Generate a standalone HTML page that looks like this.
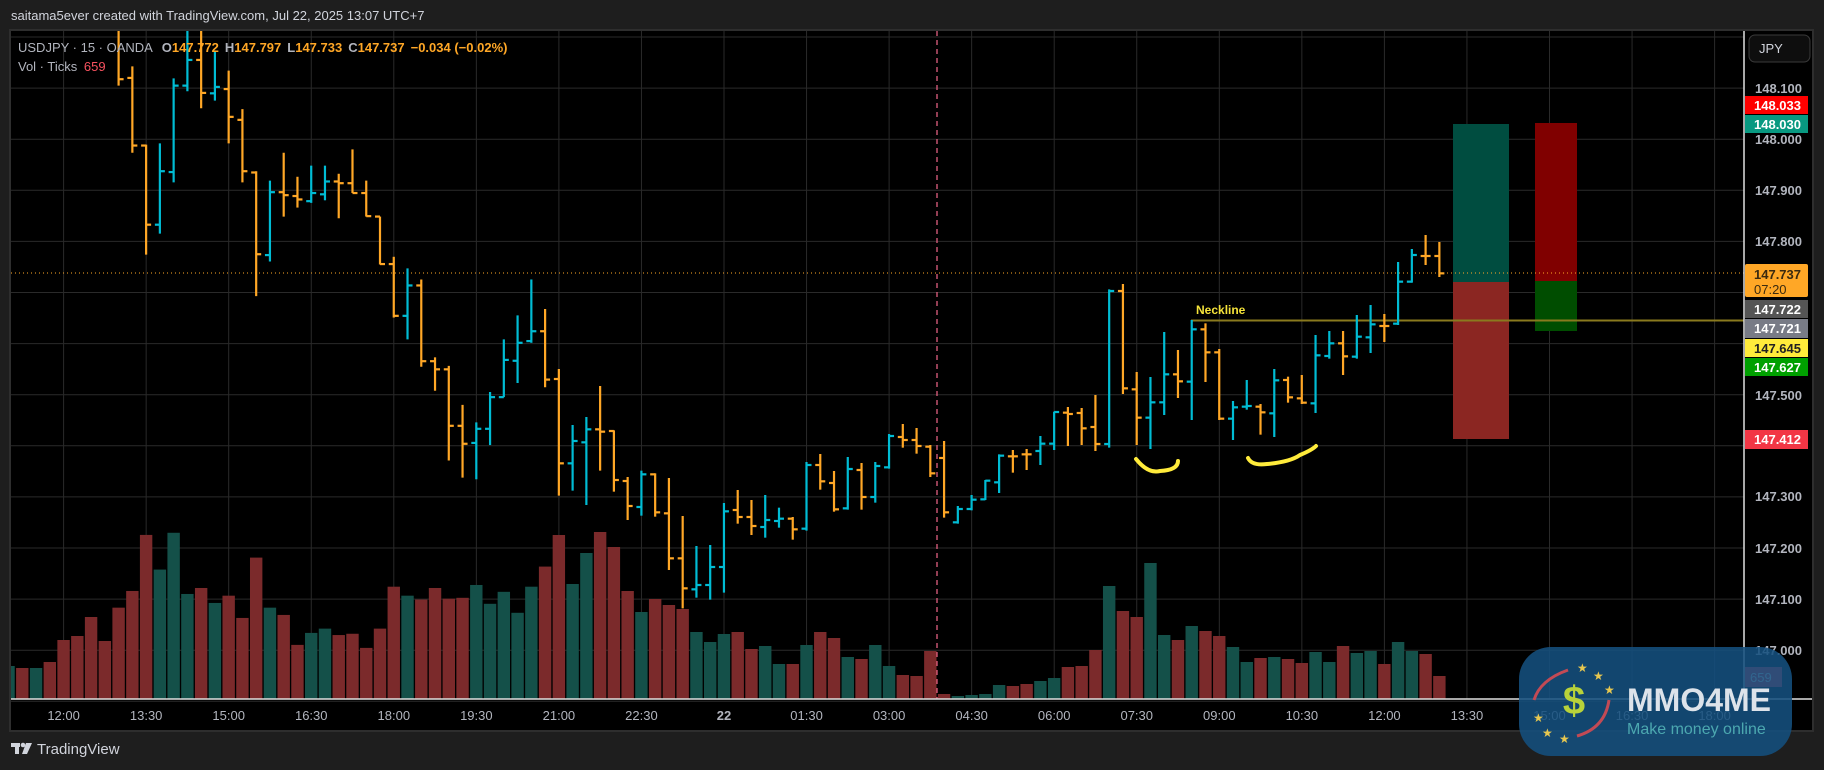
<!DOCTYPE html>
<html><head><meta charset="utf-8"><style>
html,body{margin:0;padding:0;background:#1e1e1e;width:1824px;height:770px;overflow:hidden;font-family:"Liberation Sans",sans-serif}
svg{display:block}
</style></head><body>
<svg id="s" width="1824" height="770" xmlns="http://www.w3.org/2000/svg" font-family="Liberation Sans, sans-serif">
<rect width="1824" height="770" fill="#1e1e1e"/>
<text x="11" y="20" fill="#d1d4dc" font-size="13">saitama5ever created with TradingView.com, Jul 22, 2025 13:07 UTC+7</text>
<rect x="10" y="30" width="1803" height="701" fill="#000" stroke="#2e2e2e" stroke-width="2"/>
<defs><clipPath id="cp"><rect x="11" y="31" width="1733" height="668"/></clipPath></defs>
<g id="grid" stroke="#2a2a2a" stroke-width="1"></g>
<g id="vol" clip-path="url(#cp)"></g>
<g id="pos">
<rect x="1453" y="124" width="56" height="158" fill="#004d40"/>
<rect x="1453" y="282" width="56" height="157" fill="#8b2622"/>
<rect x="1535" y="123" width="42" height="158" fill="#800000"/>
<rect x="1535" y="281" width="42" height="50" fill="#004d00"/>
</g>
<line x1="11" y1="273" x2="1744" y2="273" stroke="#ffa726" stroke-width="1" stroke-dasharray="1,3"/>
<line x1="1191" y1="320.5" x2="1744" y2="320.5" stroke="#8a7a1e" stroke-width="2"/>
<text x="1196" y="314" fill="#f5e33a" font-size="12" font-weight="bold">Neckline</text>
<line x1="937" y1="31" x2="937" y2="699" stroke="#e06080" stroke-width="1.3" stroke-dasharray="5,4"/>
<g id="bars" clip-path="url(#cp)"></g>
<path d="M1136,459 Q1148,474 1160,471 Q1178,470 1178,461" fill="none" stroke="#ffeb3b" stroke-width="4" stroke-linecap="round"/>
<path d="M1248,458 Q1252,466 1267,464 Q1290,462 1300,455 Q1312,450 1316,446" fill="none" stroke="#ffeb3b" stroke-width="4" stroke-linecap="round"/>
<line x1="11" y1="699" x2="1812" y2="699" stroke="#e0e0e0" stroke-width="1.5"/>
<line x1="1744" y1="31" x2="1744" y2="699" stroke="#e0e0e0" stroke-width="1.5"/>
<g font-size="13" fill="#b2b5be" font-weight="bold">
<text x="18" y="52"><tspan fill="#b2b5be" font-weight="normal">USDJPY · 15 · OANDA  </tspan><tspan dx="6">O</tspan><tspan fill="#ffa726">147.772</tspan><tspan dx="6">H</tspan><tspan fill="#ffa726">147.797</tspan><tspan dx="6">L</tspan><tspan fill="#ffa726">147.733</tspan><tspan dx="6">C</tspan><tspan fill="#ffa726">147.737</tspan><tspan dx="6" fill="#ffa726">−0.034 (−0.02%)</tspan></text>
<text x="18" y="71" font-weight="normal">Vol · Ticks <tspan fill="#f7525f" dx="3">659</tspan></text>
</g>
<rect x="1749" y="35" width="61" height="27" rx="6" fill="#0e0e0e" stroke="#3a3a3a"/>
<text x="1759" y="53" fill="#d1d4dc" font-size="13">JPY</text>
<g font-size="13" fill="#b2b5be" text-anchor="start" font-weight="bold">
<text x="1755" y="93">148.100</text>
<text x="1755" y="144">148.000</text>
<text x="1755" y="195">147.900</text>
<text x="1755" y="246">147.800</text>
<text x="1755" y="400">147.500</text>
<text x="1755" y="501">147.300</text>
<text x="1755" y="553">147.200</text>
<text x="1755" y="604">147.100</text>
<text x="1755" y="655">147.000</text>
</g>
<g font-size="13" font-weight="bold">
<rect x="1745" y="96" width="63" height="18" fill="#ff0000"/><text x="1754" y="110" fill="#fff">148.033</text>
<rect x="1745" y="115" width="63" height="18" fill="#089981"/><text x="1754" y="129" fill="#fff">148.030</text>
<rect x="1745" y="264" width="63" height="33" rx="2" fill="#ffa726"/><text x="1754" y="279" fill="#3a2a10">147.737</text><text x="1754" y="294" fill="#3a2a10" font-weight="normal">07:20</text>
<rect x="1745" y="300" width="63" height="18" fill="#555"/><text x="1754" y="314" fill="#fff">147.722</text>
<rect x="1745" y="319" width="63" height="19" fill="#787b86"/><text x="1754" y="333" fill="#fff">147.721</text>
<rect x="1745" y="339" width="63" height="18" fill="#ffeb3b"/><text x="1754" y="353" fill="#222">147.645</text>
<rect x="1745" y="358" width="63" height="18" fill="#00a000"/><text x="1754" y="372" fill="#fff">147.627</text>
<rect x="1745" y="430" width="63" height="19" fill="#f23645"/><text x="1754" y="444" fill="#fff">147.412</text>
<rect x="1745" y="667" width="37" height="20" fill="#f23645"/><text x="1750" y="682" fill="#fff" font-weight="normal">659</text>
</g>
<g id="tl" font-size="13" fill="#b2b5be" text-anchor="middle"></g>
<rect x="1519" y="647" width="273" height="109" rx="32" fill="#14507e" fill-opacity="0.88"/>
<path d="M1568,670 Q1540,680 1534,700" fill="none" stroke="#c24a55" stroke-width="3"/>
<path d="M1577,736 Q1605,728 1609,700" fill="none" stroke="#c24a55" stroke-width="3"/>
<text x="1574" y="714" fill="#b8d23a" font-size="40" font-weight="bold" text-anchor="middle">$</text>
<g fill="#e8c850" font-size="12"><text x="1577" y="672">★</text><text x="1593" y="680">★</text><text x="1604" y="694">★</text><text x="1533" y="722">★</text><text x="1542" y="737">★</text><text x="1559" y="743">★</text></g>
<text x="1627" y="711" fill="#dde3ea" font-size="32" font-weight="bold">MMO4ME</text>
<text x="1627" y="734" fill="#4ca8b0" font-size="16">Make money online</text>
<g fill="#d1d4dc"><rect x="11" y="743" width="9" height="4"/><rect x="15" y="743" width="4" height="11"/><circle cx="23" cy="745" r="2.3"/><path d="M26,743 L32,743 L27,754 L22,754 Z"/></g>
<text x="37" y="754" fill="#d1d4dc" font-size="15">TradingView</text>
</svg>
<script>
var NS="http://www.w3.org/2000/svg";
function el(p,t,a){var e=document.createElementNS(NS,t);for(var k in a)e.setAttribute(k,a[k]);p.appendChild(e);return e;}
var grid=document.getElementById('grid');
for(var i=0;i<14;i++){var y=37+i*51.1;el(grid,'line',{x1:11,y1:y,x2:1744,y2:y});}
var labels=["12:00","13:30","15:00","16:30","18:00","19:30","21:00","22:30","22","01:30","03:00","04:30","06:00","07:30","09:00","10:30","12:00","13:30","15:00","16:30","18:00"];
var tl=document.getElementById('tl');
labels.forEach(function(l,i){var x=63.6+82.55*i;el(grid,'line',{x1:x,y1:31,x2:x,y2:699});var t=el(tl,'text',{x:x,y:720});if(l=="22")t.setAttribute('font-weight','bold');t.textContent=l;});
var A=[[-20,-50,130,115],[112,85,287,270],[270,268,525,455],[455,265,476,330],[332,113,356,130],[130,-30,143,70],[70,-30,183,147],[148,50,165,133],[138,95,265,203],[210,185,356,330],[333,330,622,524],[526,352,541,379],[379,287,436,386],[388,343,415,396],[400,317,404,381],[384,317,398,354],[354,336,440,358],[358,279,381,381],[381,352,436,435],[436,436,548,547],[547,530,672,668],[668,557,723,597],[597,583,787,774],[774,765,843,793],[793,785,1006,925],[925,876,1046,967],[965,917,1050,932],[932,846,970,858],[858,723,858,771],[773,667,825,731],[727,583,731,704],[704,652,835,817]];
var B=[[387,357,737,640],[640,525,722,573],[577,501,765,538],[538,408,662,545],[543,541,725,690],[693,681,810,768],[771,662,797,673],[673,670,800,787],[790,684,960,925],[925,798,1075,1015],[1018,888,1043,1005],[1005,885,1049,951],[951,759,1028,784],[780,720,821,801],[801,750,855,828],[831,735,863,810],[813,773,833,806],[806,801,869,838],[836,636,842,645],[645,612,719,694],[699,663,785,778],[775,621,779,657],[660,639,779,741],[741,636,758,648],[652,552,656,558],[561,522,593,570],[570,534,611,588],[590,585,681,670],[624,573,803,787],[817,768,821,777],[777,735,781,749],[748,690,750,692]];
var C=[[757,673,789,677],[679,660,728,679],[673,657,720,673],[663,618,705,641],[641,545,660,546],[548,531,648,552],[549,534,645,595],[591,495,663,642],[642,178,653,183],[183,162,492,475],[478,426,645,563],[563,441,657,517],[517,306,555,433],[433,360,504,454],[455,270,570,298],[298,280,456,367],[367,357,570,566],[566,513,630,532],[530,450,539,528],[530,522,614,547],[550,417,621,451],[450,440,518,502],[505,435,522,518],[520,315,549,376],[378,303,386,340],[340,303,435,379],[380,255,386,320],[322,225,369,283],[288,252,336,288],[281,96,285,155],[155,57,158,75],[78,15,105,78],[78,36,141,130]];
var bars=[];
A.forEach(function(b){bars.push(b.map(function(z){return 30+z/2.337;}));});
B.forEach(function(b){bars.push(b.map(function(z){return 250+z/3;}));});
C.forEach(function(b){bars.push(b.map(function(z){return 230+z/3;}));});
var VA=[1350,1311,1180,1261,1175,1318,1304,1339,1322,1374,1233,1350,1367,1437,1409,1399,1414,1411,1444,1399,1301,1322,1331,1304,1329,1327,1297,1341,1313,1362,1301,1254];
var VB=[855,1002,909,846,891,1023,1086,1047,1065,1077,1146,1176,1152,1146,1197,1188,1242,1242,1185,1146,1164,1221,1227,1185,1248,1275,1278,1203,1332,1338,1335,1332];
var VC=[1365,1368,1362,1353,1344,1311,1308,1260,1068,1143,1161,999,1215,1230,1188,1203,1218,1251,1296,1284,1281,1287,1299,1266,1296,1248,1269,1263,1302,1236,1263,1272,1338];
var vols=[];VA.forEach(function(z){vols.push(30+z/2.337);});VB.forEach(function(z){vols.push(250+z/3);});VC.forEach(function(z){vols.push(230+z/3);});
var RED="#7b2a2b",TEAL="#145049";
var vg=document.getElementById('vol');
var pre=[[666,TEAL],[668,RED],[668,TEAL],[662,RED],[640,RED],[636,RED],[617,RED],[641,RED]];
function X(n){return 118.6+13.758*n;}
pre.forEach(function(p,i){var n=i-8;el(vg,'rect',{x:X(n)-6.2,y:p[0],width:12.4,height:699-p[0],fill:p[1]});});
var bg=document.getElementById('bars');
bars.forEach(function(b,n){
 var o=b[0],h=b[1],l=b[2],c=b[3],x=X(n);var up=c<o;var col=up?"#00bcd4":"#ffa726";
 el(vg,'rect',{x:x-6.2,y:vols[n],width:12.4,height:699-vols[n],fill:up?TEAL:RED});
 el(bg,'line',{x1:x,y1:h,x2:x,y2:l,stroke:col,'stroke-width':2.2});
 el(bg,'line',{x1:x-5,y1:o,x2:x,y2:o,stroke:col,'stroke-width':2.2});
 el(bg,'line',{x1:x,y1:c,x2:x+5,y2:c,stroke:col,'stroke-width':2.2});
});
</script>
</body></html>
